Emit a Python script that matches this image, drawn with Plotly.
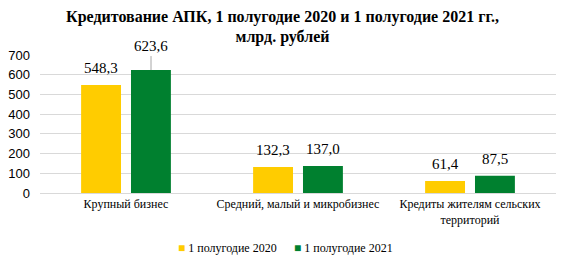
import plotly.graph_objects as go

categories = ["Крупный бизнес", "Средний, малый и микробизнес", "Кредиты жителям сельских<br>территорий"]
series_names = ["1 полугодие 2020", "1 полугодие 2021"]
values_2020 = [548.3, 132.3, 61.4]
values_2021 = [623.6, 137.0, 87.5]
colors = ["#FFCC00", "#00802F"]
tick_vals = [0, 100, 200, 300, 400, 500, 600, 700]

def fmt(v):
    return f"{v:.1f}".replace(".", ",")

SERIF = "Liberation Serif"
SANS = "Liberation Sans"

fig = go.Figure()
for name, vals, col in zip(series_names, [values_2020, values_2021], colors):
    fig.add_trace(go.Bar(x=categories, y=vals, name=name, marker_color=col,
                         marker_line_width=0, showlegend=False))
# legend entries: coloured square glyph inside the text, invisible symbol
legend_ids = ["legend", "legend2"]
for name, col, lg in zip(series_names, colors, legend_ids):
    fig.add_trace(go.Scatter(x=[None], y=[None], mode="markers", legend=lg,
                             name=f'<span style="color:{col}">■</span> {name}',
                             marker=dict(symbol="square", size=1, color="rgba(0,0,0,0)")))

# value labels
for i, cat in enumerate(categories):
    for j, vals in enumerate([values_2020, values_2021]):
        v = vals[i]
        shift = -25 if j == 0 else 25
        if i == 0 and j == 1:
            fig.add_annotation(x=cat, y=v, xshift=shift, text=fmt(v), showarrow=True,
                               arrowhead=0, arrowwidth=1, arrowcolor="#A6A6A6",
                               ax=0, ay=-14, yanchor="bottom",
                               font=dict(family=SERIF, size=15, color="#000"))
        else:
            fig.add_annotation(x=cat, y=v, xshift=shift, yshift=7, text=fmt(v),
                               showarrow=False, yanchor="bottom",
                               font=dict(family=SERIF, size=15, color="#000"))

legend_common = dict(orientation="h", xanchor="left", xref="container",
                     y=1 - 247 / 262, yanchor="middle", yref="container",
                     font=dict(family=SERIF, size=12), itemwidth=30,
                     bgcolor="rgba(0,0,0,0)")

fig.update_layout(
    width=565, height=262,
    margin=dict(l=40, r=9, t=55, b=69),
    paper_bgcolor="white", plot_bgcolor="white",
    barmode="group", bargap=0.42, bargroupgap=0.2,
    font=dict(family=SERIF, size=12, color="#000"),
    title=dict(text="<b>Кредитование АПК, 1 полугодие 2020 и 1 полугодие 2021 гг.,<br>млрд. рублей</b>",
               x=0.5, xanchor="center", xref="container",
               y=1 - 21.5 / 262, yanchor="middle", yref="container",
               font=dict(family=SERIF, size=16, color="#000")),
    legend=dict(x=138 / 565, **legend_common),
    legend2=dict(x=254 / 565, **legend_common),
    showlegend=True,
)
fig.update_yaxes(range=[0, 700], tickvals=tick_vals, showgrid=True, gridcolor="#D9D9D9",
                 gridwidth=1, zeroline=False, showline=False, automargin=False,
                 tickfont=dict(family=SANS, size=13), ticklabelstandoff=9)
fig.update_xaxes(showline=True, linecolor="#D9D9D9", linewidth=1, automargin=False,
                 tickfont=dict(family=SERIF, size=12))

fig.write_html("out.html")
